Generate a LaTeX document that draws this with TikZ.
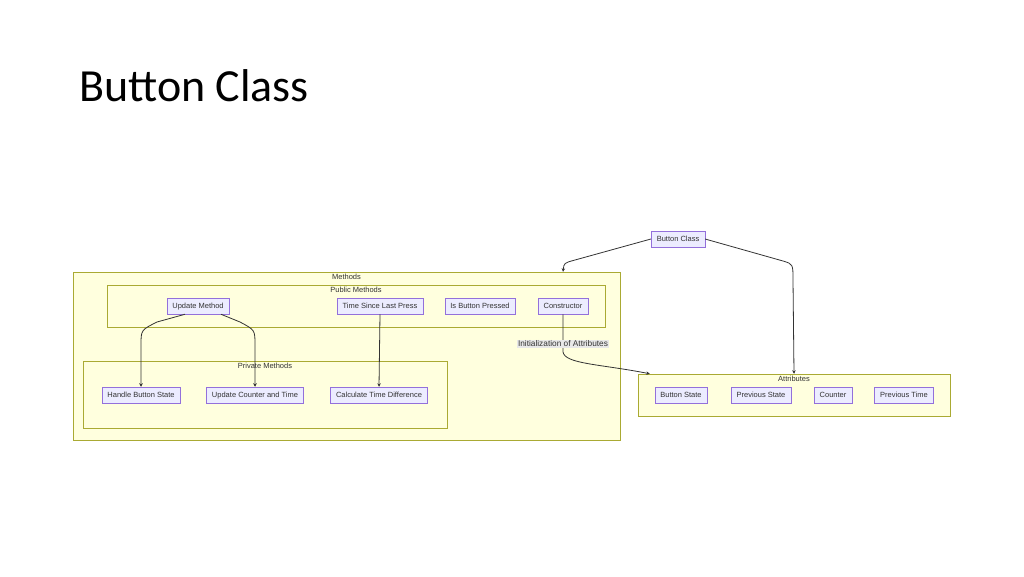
\documentclass[tikz,border=0pt]{standalone}
\usepackage{fontspec}
\setmainfont{Liberation Sans}
\newfontfamily\titlefont{Carlito}
\usepackage{tikz}
\usetikzlibrary{positioning, arrows.meta}
\definecolor{boxfill}{HTML}{ECECFF}
\definecolor{boxline}{HTML}{9370DB}
\definecolor{grpfill}{HTML}{FFFFDE}
\definecolor{grpline}{HTML}{AAAA33}
\definecolor{ink}{HTML}{333333}
\definecolor{lblfill}{HTML}{E8E8E8}
\tikzset{
  item/.style={draw=boxline, fill=boxfill, rectangle, text=ink, font=\fontsize{7.5}{9}\selectfont,
    minimum height=16, text height=5.6pt, text depth=1.6pt, inner xsep=5.6pt, inner ysep=0pt, line width=0.5pt},
  group/.style={draw=grpline, fill=grpfill, rectangle, line width=0.5pt},
  grouptext/.style={text=ink, font=\fontsize{7.5}{9}\selectfont, inner sep=0pt},
  link/.style={draw=ink, line width=0.8pt, -{Stealth[length=3.5pt,width=3.5pt]}}
}
\begin{document}
\begin{tikzpicture}[x=1pt, y=-1pt]
\useasboundingbox (0,0) rectangle (1024,576);
% title
\node[anchor=base west, inner sep=0pt, font=\titlefont\fontsize{46}{54}\selectfont] (title) at (79,101) {Button Class};
% groups
\node[group, minimum width=547, minimum height=168] (methods) at (346.5,356) {};
\node[grouptext, below=2pt of methods.north] (methodslbl) {Methods};
\node[group, minimum width=498, minimum height=42] (public) at (356,306) {};
\node[grouptext, below=2pt of public.north] (publiclbl) {Public Methods};
\node[group, minimum width=364, minimum height=67] (private) at (265,394.5) {};
\node[grouptext, below=2pt of private.north] (privatelbl) {Private Methods};
\node[group, minimum width=312, minimum height=42] (attr) at (794,395) {};
\node[grouptext, below=2pt of attr.north] (attrlbl) {Attributes};
% classes
\node[item] (bc) at (678,239) {Button Class};
\node[item] (upd) at (198,306) {Update Method};
\node[item] (tslp) at (380,306) {Time Since Last Press};
\node[item] (ibp) at (480,306) {Is Button Pressed};
\node[item] (cons) at (563,306) {Constructor};
\node[item] (hbs) at (141,395) {Handle Button State};
\node[item] (uct) at (255,395) {Update Counter and Time};
\node[item] (ctd) at (379,395) {Calculate Time Difference};
\node[item] (bs) at (681,395) {Button State};
\node[item] (ps) at (761,395) {Previous State};
\node[item] (cnt) at (833,395) {Counter};
\node[item] (pt) at (904,395) {Previous Time};

\draw[link] (bc.west) -- (575,260) .. controls (564,263) .. (cons |- methods.north);
\draw[link] (bc.east) -- (783,261) .. controls (793,264) .. (793,280) -- (attr.north);
\draw[link] ([xshift=-13]upd.south) -- (157,322) .. controls (141,330) .. (141,345) -- (hbs.north);
\draw[link] ([xshift=23]upd.south) -- (240,322) .. controls (255,330) .. (255,345) -- (uct.north);
\draw[link] (tslp.south) -- (ctd.north);
\draw[link] (cons.south) -- (563,352) .. controls (565,364) and (600,364) .. ([xshift=12]attr.north west);
\node[fill=lblfill, text=ink, font=\fontsize{8.3}{9}\selectfont, inner sep=1pt] (initlbl) at (563,344) {Initialization of Attributes};
\end{tikzpicture}
\end{document}
